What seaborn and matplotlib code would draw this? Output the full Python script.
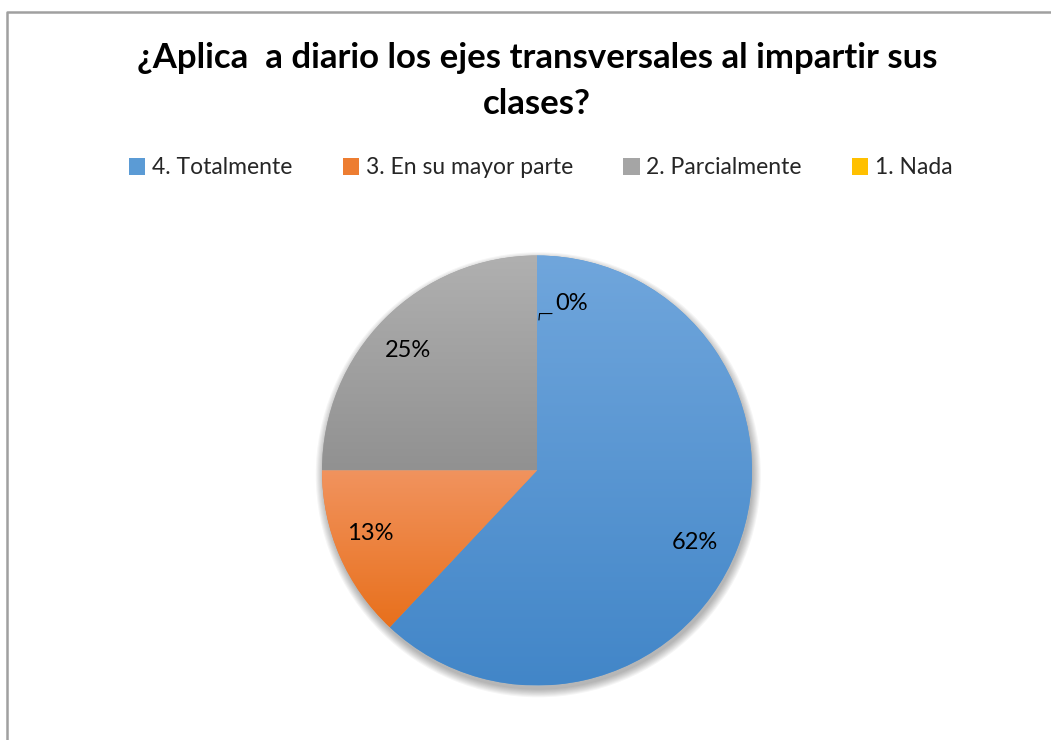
import numpy as np
import seaborn as sns
import matplotlib.pyplot as plt
from matplotlib.colors import LinearSegmentedColormap
from matplotlib.patches import Circle, Patch
from matplotlib.lines import Line2D

sns.set_theme(style="white")
plt.rcParams['font.family'] = ['Lato', 'DejaVu Sans']

# data
categories = ['4. Totalmente', '3. En su mayor parte', '2. Parcialmente', '1. Nada']
values = [62, 13, 25, 0]
title = '¿Aplica  a diario los ejes transversales al impartir sus\nclases?'

# colours (top / bottom of gradient)
tops = ['#70A6DC', '#F1935E', '#B0B0B0', '#FFC83A']
bottoms = ['#4286C8', '#E8701C', '#919191', '#F0B400']
legend_cols = ['#5B9BD5', '#ED7D31', '#A5A5A5', '#FFC000']

# where the % labels sit (pie radius = 1)
label_pos = [(0.735, -0.337), (-0.777, -0.291), (-0.602, 0.560), (0.16, 0.775)]

fig = plt.figure(figsize=(10.51, 7.40), dpi=100)
W, H = 1051, 740
cx, cy, r_px = 537, 470.5, 215
half = r_px * 1.1
ax = fig.add_axes([(cx - half) / W, (H - cy - half) / H, 2 * half / W, 2 * half / H])

# soft shadow
for k in range(8):
    ax.add_patch(Circle((0.006, -0.02), 1.0 + k * 0.005, color='black',
                        alpha=0.04, lw=0, zorder=0))

wedges, texts, autotexts = ax.pie(values, startangle=90, counterclock=False,
                                  colors=legend_cols, autopct=lambda p: f'{p:.0f}%',
                                  radius=1, wedgeprops=dict(linewidth=0),
                                  textprops=dict(fontsize=17, color='black'))

# vertical gradient inside each wedge
grad = np.linspace(0, 1, 256).reshape(-1, 1)
for w, t, b in zip(wedges, tops, bottoms):
    ext = w.get_path().get_extents()
    if ext.width < 1e-6:
        continue
    cmap = LinearSegmentedColormap.from_list('g', [t, b])
    im = ax.imshow(grad, cmap=cmap, aspect='auto',
                   extent=[ext.x0, ext.x1, ext.y0, ext.y1], zorder=1.5,
                   origin='upper', interpolation='bilinear')
    im.set_clip_path(w)

for t, p in zip(autotexts, label_pos):
    t.set_position(p)
    t.set_zorder(5)

# leader line of the 0% label
ax.plot([0.009, 0.012, 0.07], [0.70, 0.73, 0.73], color='black', lw=0.8, zorder=5)

ax.set_xlim(-1.1, 1.1)
ax.set_ylim(-1.1, 1.1)
ax.set_aspect('equal')
ax.axis('off')

fig.suptitle(title, fontsize=25, fontweight='bold', x=537 / W, y=1 - 42 / H, va='top',
             linespacing=1.55, color='black')

handles = [Patch(facecolor=c, edgecolor='none') for c in legend_cols]
fig.legend(handles, categories, loc='center', ncol=4,
           bbox_to_anchor=(541 / W, 1 - 168 / H), frameon=False, fontsize=16.5,
           handlelength=0.7, handleheight=0.7, handletextpad=0.3,
           columnspacing=2.2)

# chart border
fig.add_artist(Line2D([7 / W, 7 / W, 1.0], [0.0, 1 - 12 / H, 1 - 12 / H],
                      color='#A0A0A0', lw=1.8, transform=fig.transFigure))

fig.savefig('out.png', dpi=100)
